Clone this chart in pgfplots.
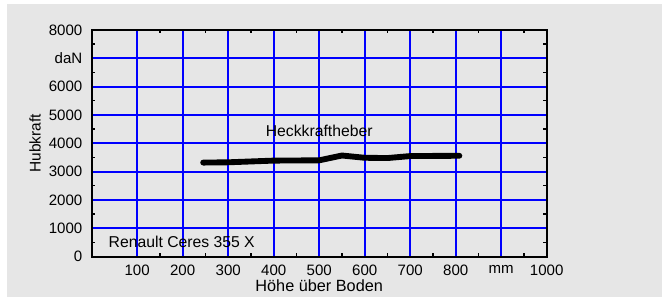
\documentclass[border=0pt]{standalone}
\usepackage{fontspec}
\setmainfont{Liberation Sans}
\usepackage{pgfplots}
\pgfplotsset{compat=1.18}
\usetikzlibrary{backgrounds}
\definecolor{bg}{HTML}{E6E6E6}
\begin{document}
\begin{tikzpicture}
\begin{axis}[
 scale only axis, width=341.25pt, height=170pt,
 xmin=0,xmax=1000,ymin=0,ymax=8000,
 xtick={100,200,...,1000},
 xticklabels={100,200,300,400,500,600,700,800,mm,1000},
 ytick={0,1000,...,8000},
 yticklabels={0,1000,2000,3000,4000,5000,6000,daN,8000},
 minor x tick num=1, minor y tick num=1,
 grid=major, major grid style={blue, line width=1.4pt},
 minor grid style={draw=none},
 axis line style={black, line width=1.6pt},
 tick style={black, line width=1pt},
 major tick length=0pt, minor tick length=2.5pt,
 tick align=inside,
 ticklabel style={font=\fontsize{11.3}{13}\selectfont},
 xticklabel style={yshift=-3pt},
 yticklabel style={xshift=-3.5pt},
 /pgf/number format/assume math mode=true,
 scaled ticks=false,
 xlabel={Höhe über Boden}, ylabel={Hubkraft},
 xlabel style={font=\fontsize{12.2}{13}\selectfont, at={(axis description cs:0.5,-0.128)}, anchor=center},
 ylabel style={font=\fontsize{11.6}{13}\selectfont, at={(axis description cs:-0.1246,0.5)}, anchor=center},
 clip=false,
]
\addplot[black, line width=4.4pt, line cap=round, line join=round] coordinates {
 (245,3320) (300,3330) (400,3390) (500,3400) (550,3570) (600,3490) (650,3480) (700,3550) (800,3560) (808,3560)
};
\node[font=\fontsize{11.8}{13}\selectfont] at (axis cs:500,4440) {Heckkraftheber};
\node[font=\fontsize{11.8}{13}\selectfont, anchor=west] at (axis cs:27,530) {Renault Ceres 355 X};
\coordinate (B1) at (rel axis cs:-0.2015,-0.1954);
\coordinate (B2) at (rel axis cs:1.26,1.1323);
\coordinate (G1) at (rel axis cs:-0.186,-0.1778);
\coordinate (G2) at (rel axis cs:1.2534,1.1147);
\end{axis}
\begin{scope}[on background layer]
\fill[bg] (G1) rectangle (G2);
\end{scope}
\path (B1) rectangle (B2);
\end{tikzpicture}
\end{document}
